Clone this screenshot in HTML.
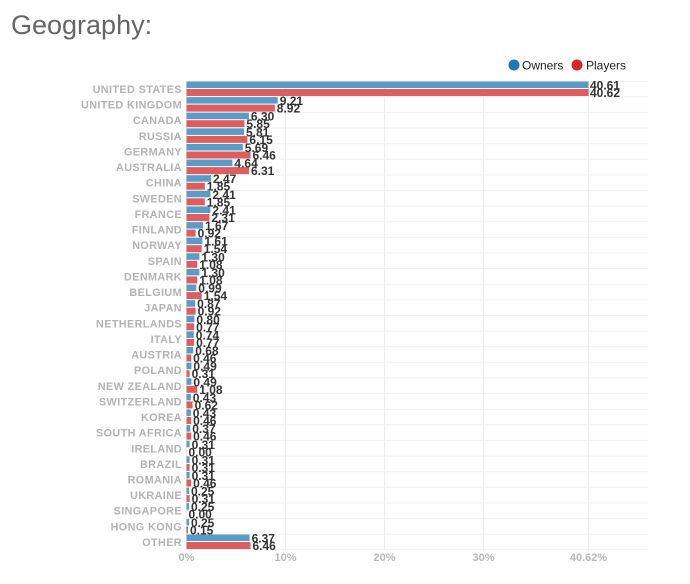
<!DOCTYPE html>
<html><head><meta charset="utf-8"><style>
body{margin:0;background:#fff;width:690px;height:584px;overflow:hidden}
svg{display:block}
.c{font:bold 10.8px "Liberation Sans",sans-serif;fill:#b3b3b3;text-anchor:end;letter-spacing:0.4px}
.v{font:bold 12px "Liberation Sans",sans-serif;fill:#333}
.b{fill:#5b9bc8}.r{fill:#dc5e5e}
</style></head><body>
<svg width="690" height="584" xmlns="http://www.w3.org/2000/svg">
<text x="11" y="34" style="font:27px 'Liberation Sans',sans-serif;fill:#666">Geography:</text>
<circle cx="514" cy="65" r="5.5" fill="#1f77b4"/><text x="522" y="69.5" style="font:12px 'Liberation Sans',sans-serif;fill:#222">Owners</text>
<circle cx="577" cy="65" r="5.5" fill="#d62728"/><text x="586" y="69.5" style="font:12px 'Liberation Sans',sans-serif;fill:#222">Players</text>
<g stroke="#ececec" stroke-width="1">
<line x1="186.5" y1="81" x2="186.5" y2="550"/><line x1="285.5" y1="81" x2="285.5" y2="550"/><line x1="384.5" y1="81" x2="384.5" y2="550"/><line x1="483.5" y1="81" x2="483.5" y2="550"/><line x1="588.5" y1="81" x2="588.5" y2="550"/>
</g>
<g stroke="#efefef">
<line x1="186" x2="648" y1="81.2" y2="81.2"/><line x1="186" x2="648" y1="96.8" y2="96.8"/><line x1="186" x2="648" y1="112.4" y2="112.4"/><line x1="186" x2="648" y1="128" y2="128"/><line x1="186" x2="648" y1="143.7" y2="143.7"/><line x1="186" x2="648" y1="159.3" y2="159.3"/><line x1="186" x2="648" y1="174.9" y2="174.9"/><line x1="186" x2="648" y1="190.5" y2="190.5"/><line x1="186" x2="648" y1="206.1" y2="206.1"/><line x1="186" x2="648" y1="221.8" y2="221.8"/><line x1="186" x2="648" y1="237.4" y2="237.4"/><line x1="186" x2="648" y1="253" y2="253"/><line x1="186" x2="648" y1="268.6" y2="268.6"/><line x1="186" x2="648" y1="284.2" y2="284.2"/><line x1="186" x2="648" y1="299.9" y2="299.9"/><line x1="186" x2="648" y1="315.5" y2="315.5"/><line x1="186" x2="648" y1="331.1" y2="331.1"/><line x1="186" x2="648" y1="346.7" y2="346.7"/><line x1="186" x2="648" y1="362.3" y2="362.3"/><line x1="186" x2="648" y1="378" y2="378"/><line x1="186" x2="648" y1="393.6" y2="393.6"/><line x1="186" x2="648" y1="409.2" y2="409.2"/><line x1="186" x2="648" y1="424.8" y2="424.8"/><line x1="186" x2="648" y1="440.4" y2="440.4"/><line x1="186" x2="648" y1="456.1" y2="456.1"/><line x1="186" x2="648" y1="471.7" y2="471.7"/><line x1="186" x2="648" y1="487.3" y2="487.3"/><line x1="186" x2="648" y1="502.9" y2="502.9"/><line x1="186" x2="648" y1="518.5" y2="518.5"/><line x1="186" x2="648" y1="534.2" y2="534.2"/><line x1="186" x2="648" y1="549.8" y2="549.8"/>
</g>
<g transform="translate(0,89)"><text class="c" x="182" y="4">UNITED STATES</text><rect class="b" x="186.5" y="-7.5" width="402" height="6.5"/><rect class="r" x="186.5" y="0" width="402.1" height="7"/><text class="v" x="590" y="0.5">40.61</text><text class="v" x="590" y="8">40.62</text></g>
<g transform="translate(0,104.6)"><text class="c" x="182" y="4">UNITED KINGDOM</text><rect class="b" x="186.5" y="-7.5" width="91.2" height="6.5"/><rect class="r" x="186.5" y="0" width="88.3" height="7"/><text class="v" x="279.7" y="0.5">9.21</text><text class="v" x="276.8" y="8">8.92</text></g>
<g transform="translate(0,120.2)"><text class="c" x="182" y="4">CANADA</text><rect class="b" x="186.5" y="-7.5" width="62.4" height="6.5"/><rect class="r" x="186.5" y="0" width="57.9" height="7"/><text class="v" x="250.9" y="0.5">6.30</text><text class="v" x="246.4" y="8">5.85</text></g>
<g transform="translate(0,135.9)"><text class="c" x="182" y="4">RUSSIA</text><rect class="b" x="186.5" y="-7.5" width="57.5" height="6.5"/><rect class="r" x="186.5" y="0" width="60.9" height="7"/><text class="v" x="246" y="0.5">5.81</text><text class="v" x="249.4" y="8">6.15</text></g>
<g transform="translate(0,151.5)"><text class="c" x="182" y="4">GERMANY</text><rect class="b" x="186.5" y="-7.5" width="56.3" height="6.5"/><rect class="r" x="186.5" y="0" width="64" height="7"/><text class="v" x="244.8" y="0.5">5.69</text><text class="v" x="252.5" y="8">6.46</text></g>
<g transform="translate(0,167.1)"><text class="c" x="182" y="4">AUSTRALIA</text><rect class="b" x="186.5" y="-7.5" width="45.9" height="6.5"/><rect class="r" x="186.5" y="0" width="62.5" height="7"/><text class="v" x="234.4" y="0.5">4.64</text><text class="v" x="251" y="8">6.31</text></g>
<g transform="translate(0,182.7)"><text class="c" x="182" y="4">CHINA</text><rect class="b" x="186.5" y="-7.5" width="24.5" height="6.5"/><rect class="r" x="186.5" y="0" width="18.3" height="7"/><text class="v" x="213" y="0.5">2.47</text><text class="v" x="206.8" y="8">1.85</text></g>
<g transform="translate(0,198.3)"><text class="c" x="182" y="4">SWEDEN</text><rect class="b" x="186.5" y="-7.5" width="23.9" height="6.5"/><rect class="r" x="186.5" y="0" width="18.3" height="7"/><text class="v" x="212.4" y="0.5">2.41</text><text class="v" x="206.8" y="8">1.85</text></g>
<g transform="translate(0,214)"><text class="c" x="182" y="4">FRANCE</text><rect class="b" x="186.5" y="-7.5" width="23.9" height="6.5"/><rect class="r" x="186.5" y="0" width="22.9" height="7"/><text class="v" x="212.4" y="0.5">2.41</text><text class="v" x="211.4" y="8">2.31</text></g>
<g transform="translate(0,229.6)"><text class="c" x="182" y="4">FINLAND</text><rect class="b" x="186.5" y="-7.5" width="16.5" height="6.5"/><rect class="r" x="186.5" y="0" width="9.1" height="7"/><text class="v" x="205" y="0.5">1.67</text><text class="v" x="197.6" y="8">0.92</text></g>
<g transform="translate(0,245.2)"><text class="c" x="182" y="4">NORWAY</text><rect class="b" x="186.5" y="-7.5" width="15.9" height="6.5"/><rect class="r" x="186.5" y="0" width="15.2" height="7"/><text class="v" x="204.4" y="0.5">1.61</text><text class="v" x="203.7" y="8">1.54</text></g>
<g transform="translate(0,260.8)"><text class="c" x="182" y="4">SPAIN</text><rect class="b" x="186.5" y="-7.5" width="12.9" height="6.5"/><rect class="r" x="186.5" y="0" width="10.7" height="7"/><text class="v" x="201.4" y="0.5">1.30</text><text class="v" x="199.2" y="8">1.08</text></g>
<g transform="translate(0,276.4)"><text class="c" x="182" y="4">DENMARK</text><rect class="b" x="186.5" y="-7.5" width="12.9" height="6.5"/><rect class="r" x="186.5" y="0" width="10.7" height="7"/><text class="v" x="201.4" y="0.5">1.30</text><text class="v" x="199.2" y="8">1.08</text></g>
<g transform="translate(0,292.1)"><text class="c" x="182" y="4">BELGIUM</text><rect class="b" x="186.5" y="-7.5" width="9.8" height="6.5"/><rect class="r" x="186.5" y="0" width="15.2" height="7"/><text class="v" x="198.3" y="0.5">0.99</text><text class="v" x="203.7" y="8">1.54</text></g>
<g transform="translate(0,307.7)"><text class="c" x="182" y="4">JAPAN</text><rect class="b" x="186.5" y="-7.5" width="8.6" height="6.5"/><rect class="r" x="186.5" y="0" width="9.1" height="7"/><text class="v" x="197.1" y="0.5">0.87</text><text class="v" x="197.6" y="8">0.92</text></g>
<g transform="translate(0,323.3)"><text class="c" x="182" y="4">NETHERLANDS</text><rect class="b" x="186.5" y="-7.5" width="7.9" height="6.5"/><rect class="r" x="186.5" y="0" width="7.6" height="7"/><text class="v" x="196.4" y="0.5">0.80</text><text class="v" x="196.1" y="8">0.77</text></g>
<g transform="translate(0,338.9)"><text class="c" x="182" y="4">ITALY</text><rect class="b" x="186.5" y="-7.5" width="7.3" height="6.5"/><rect class="r" x="186.5" y="0" width="7.6" height="7"/><text class="v" x="195.8" y="0.5">0.74</text><text class="v" x="196.1" y="8">0.77</text></g>
<g transform="translate(0,354.5)"><text class="c" x="182" y="4">AUSTRIA</text><rect class="b" x="186.5" y="-7.5" width="6.7" height="6.5"/><rect class="r" x="186.5" y="0" width="4.6" height="7"/><text class="v" x="195.2" y="0.5">0.68</text><text class="v" x="193.1" y="8">0.46</text></g>
<g transform="translate(0,370.2)"><text class="c" x="182" y="4">POLAND</text><rect class="b" x="186.5" y="-7.5" width="4.9" height="6.5"/><rect class="r" x="186.5" y="0" width="3.1" height="7"/><text class="v" x="193.4" y="0.5">0.49</text><text class="v" x="191.6" y="8">0.31</text></g>
<g transform="translate(0,385.8)"><text class="c" x="182" y="4">NEW ZEALAND</text><rect class="b" x="186.5" y="-7.5" width="4.9" height="6.5"/><rect class="r" x="186.5" y="0" width="10.7" height="7"/><text class="v" x="193.4" y="0.5">0.49</text><text class="v" x="199.2" y="8">1.08</text></g>
<g transform="translate(0,401.4)"><text class="c" x="182" y="4">SWITZERLAND</text><rect class="b" x="186.5" y="-7.5" width="4.3" height="6.5"/><rect class="r" x="186.5" y="0" width="6.1" height="7"/><text class="v" x="192.8" y="0.5">0.43</text><text class="v" x="194.6" y="8">0.62</text></g>
<g transform="translate(0,417)"><text class="c" x="182" y="4">KOREA</text><rect class="b" x="186.5" y="-7.5" width="4.3" height="6.5"/><rect class="r" x="186.5" y="0" width="4.6" height="7"/><text class="v" x="192.8" y="0.5">0.43</text><text class="v" x="193.1" y="8">0.46</text></g>
<g transform="translate(0,432.6)"><text class="c" x="182" y="4">SOUTH AFRICA</text><rect class="b" x="186.5" y="-7.5" width="3.7" height="6.5"/><rect class="r" x="186.5" y="0" width="4.6" height="7"/><text class="v" x="192.2" y="0.5">0.37</text><text class="v" x="193.1" y="8">0.46</text></g>
<g transform="translate(0,448.3)"><text class="c" x="182" y="4">IRELAND</text><rect class="b" x="186.5" y="-7.5" width="3.1" height="6.5"/><text class="v" x="191.6" y="0.5">0.31</text><text class="v" x="188.5" y="8">0.00</text></g>
<g transform="translate(0,463.9)"><text class="c" x="182" y="4">BRAZIL</text><rect class="b" x="186.5" y="-7.5" width="3.1" height="6.5"/><rect class="r" x="186.5" y="0" width="3.1" height="7"/><text class="v" x="191.6" y="0.5">0.31</text><text class="v" x="191.6" y="8">0.31</text></g>
<g transform="translate(0,479.5)"><text class="c" x="182" y="4">ROMANIA</text><rect class="b" x="186.5" y="-7.5" width="3.1" height="6.5"/><rect class="r" x="186.5" y="0" width="4.6" height="7"/><text class="v" x="191.6" y="0.5">0.31</text><text class="v" x="193.1" y="8">0.46</text></g>
<g transform="translate(0,495.1)"><text class="c" x="182" y="4">UKRAINE</text><rect class="b" x="186.5" y="-7.5" width="2.5" height="6.5"/><rect class="r" x="186.5" y="0" width="3.1" height="7"/><text class="v" x="191" y="0.5">0.25</text><text class="v" x="191.6" y="8">0.31</text></g>
<g transform="translate(0,510.7)"><text class="c" x="182" y="4">SINGAPORE</text><rect class="b" x="186.5" y="-7.5" width="2.5" height="6.5"/><text class="v" x="191" y="0.5">0.25</text><text class="v" x="188.5" y="8">0.00</text></g>
<g transform="translate(0,526.4)"><text class="c" x="182" y="4">HONG KONG</text><rect class="b" x="186.5" y="-7.5" width="2.5" height="6.5"/><rect class="r" x="186.5" y="0" width="1.5" height="7"/><text class="v" x="191" y="0.5">0.25</text><text class="v" x="190" y="8">0.15</text></g>
<g transform="translate(0,542)"><text class="c" x="182" y="4">OTHER</text><rect class="b" x="186.5" y="-7.5" width="63.1" height="6.5"/><rect class="r" x="186.5" y="0" width="64" height="7"/><text class="v" x="251.6" y="0.5">6.37</text><text class="v" x="252.5" y="8">6.46</text></g>
<g style="font:bold 11px 'Liberation Sans',sans-serif;fill:#b8b8b8" text-anchor="middle">
<text x="186.5" y="561">0%</text><text x="285.5" y="561">10%</text><text x="384.5" y="561">20%</text><text x="483.5" y="561">30%</text><text x="588.5" y="561">40.62%</text>
</g>
</svg>
</body></html>
